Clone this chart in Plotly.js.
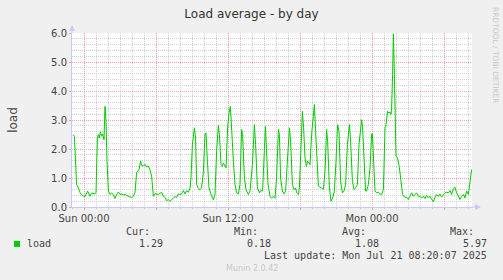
<!DOCTYPE html>
<html>
<head>
<meta charset="utf-8">
<script src="https://cdn.plot.ly/plotly-3.0.1.min.js"></script>
<style>
html,body{margin:0;padding:0;background:#f0f0f0;}
#chart{width:503px;height:280px;}
</style>
</head>
<body>
<div id="chart"></div>
<script>
// minutes since Sat 2025-07-19 23:00 (start of the graph window)
const offsetMinutes = [
6,12,23,32,40,48,57,65,78,90,98,115,120,127,132,137,142,148,153,160,165,170,175,182,190,198,207,215,223,232,240,248,257,265,282,298,307,315,323,335,343,348,357,365,373,382,390,398,407,415,432,448,457,465,473,482,490,498,507,515,523,532,540,548,557,565,573,582,590,595,602,612,618,623,632,640,648,657,665,670,677,685,695,707,715,723,732,737,745,752,757,765,770,778,785,792,798,807,815,823,832,840,848,853,862,870,882,890,902,912,918,927,937,943,953,958,967,973,980,990,998,1007,1015,1023,1032,1037,1043,1052,1060,1068,1077,1087,1093,1102,1110,1118,1123,1132,1137,1145,1152,1158,1165,1172,1178,1185,1190,1198,1207,1212,1218,1225,1232,1240,1248,1257,1265,1273,1278,1287,1295,1303,1312,1320,1328,1335,1343,1352,1360,1368,1377,1387,1393,1402,1410,1418,1427,1435,1448,1453,1462,1468,1473,1482,1490,1498,1502,1507,1515,1523,1532,1540,1548,1557,1565,1570,1573,1578,1585,1590,1595,1598,1603,1607,1612,1617,1620,1628,1637,1645,1653,1665,1673,1682,1690,1698,1707,1715,1723,1732,1740,1748,1757,1765,1773,1782,1790,1798,1807,1815,1823,1832,1840,1848,1857,1865,1873,1882,1890,1898,1907,1915,1923,1932,1940,1948,1957,1965,1973,1982,1990,1998
];
const loadValues = [
2.50,2.44,0.77,0.66,0.50,0.42,0.38,0.36,0.55,0.37,0.48,0.45,0.50,2.38,2.50,2.38,2.59,2.44,2.52,2.32,3.47,2.96,1.58,0.55,0.43,0.48,0.43,0.29,0.43,0.52,0.43,0.45,0.41,0.43,0.37,0.33,0.37,0.50,1.18,1.29,1.58,1.44,1.41,1.47,1.38,1.41,1.29,1.06,0.37,0.46,0.43,0.51,0.37,0.33,0.22,0.25,0.20,0.25,0.30,0.36,0.33,0.45,0.43,0.45,0.57,0.45,0.57,0.51,0.63,1.00,2.15,2.73,2.38,0.78,0.63,0.60,0.66,1.23,2.52,2.55,1.58,0.66,0.43,0.25,0.43,1.92,2.82,2.50,1.46,1.40,1.52,1.40,1.35,2.73,3.24,3.47,2.52,1.58,0.78,0.49,0.45,0.78,2.67,2.50,1.00,0.60,0.43,0.55,1.46,2.84,2.15,0.66,0.49,0.57,0.55,1.58,2.78,1.90,0.80,0.37,0.30,0.37,0.30,1.00,2.67,2.50,1.00,0.55,0.45,0.55,1.58,2.73,2.27,0.78,0.60,0.66,0.49,0.43,0.66,2.38,3.30,2.73,1.69,1.40,1.58,1.52,1.46,2.50,3.19,3.53,2.61,1.58,0.72,0.68,0.66,0.60,1.23,2.67,2.27,0.66,0.20,0.31,0.55,1.58,2.84,2.61,0.89,0.49,0.55,0.78,2.15,2.84,2.27,0.89,0.60,0.66,0.78,2.15,3.01,2.73,1.00,0.55,0.55,0.78,1.35,2.50,2.53,1.46,0.55,0.49,0.51,0.45,0.43,0.60,2.73,2.84,2.96,3.30,3.24,3.27,3.19,3.41,4.56,5.97,4.56,2.61,1.75,1.70,1.35,0.89,0.43,0.32,0.34,0.26,0.37,0.49,0.37,0.43,0.49,0.37,0.37,0.31,0.37,0.29,0.40,0.31,0.37,0.26,0.18,0.34,0.43,0.37,0.45,0.34,0.43,0.49,0.51,0.49,0.57,0.43,0.63,0.68,0.49,0.37,0.26,0.37,0.43,0.31,0.55,0.43,0.78,1.29
];
const tickValues = ['2025-07-20 00:00','2025-07-20 06:00','2025-07-20 12:00','2025-07-20 18:00','2025-07-21 00:00','2025-07-21 06:00'];
const tickLabels = ['Sun 00:00','','Sun 12:00','','Mon 00:00',''];
const statHeaders = ['Cur:','Min:','Avg:','Max:'];
const statValues = ['1.29','0.18','1.08','5.97'];
const seriesName = 'load';
const lastUpdate = 'Last update: Mon Jul 21 08:20:07 2025';

const startMs = Date.UTC(2025,6,19,23,0);
function stamp(m){ return new Date(startMs + m*60000).toISOString().slice(0,19).replace('T',' '); }
const xs = offsetMinutes.map(stamp);

// pixel helpers for decorations (plot area: x 72..472, y 33..207.5)
const L=72, R=472, T=33, B=207.5;
const px = p => (p-L)/(R-L);
const py = p => (B-p)/(B-T);

const mono = 'DejaVu Sans Mono, monospace';
const sans = 'DejaVu Sans, sans-serif';
const txt = '#444';
const annotations = [];
const headerRight = [151,259,367,475];
const valueRight = [164,272,380,488];
statHeaders.forEach((h,i)=>{
  annotations.push({xref:'paper',yref:'paper',x:px(headerRight[i]+1),y:py(232.5),text:h,showarrow:false,xanchor:'right',yanchor:'middle',font:{family:mono,size:10,color:txt}});
  annotations.push({xref:'paper',yref:'paper',x:px(valueRight[i]+1),y:py(244.5),text:statValues[i],showarrow:false,xanchor:'right',yanchor:'middle',font:{family:mono,size:10,color:txt}});
});
annotations.push({xref:'paper',yref:'paper',x:px(25),y:py(244.5),text:seriesName,showarrow:false,xanchor:'left',yanchor:'middle',font:{family:mono,size:10,color:txt}});
annotations.push({xref:'paper',yref:'paper',x:px(489),y:py(256.5),text:lastUpdate,showarrow:false,xanchor:'right',yanchor:'middle',font:{family:mono,size:10,color:txt}});
annotations.push({xref:'paper',yref:'paper',x:px(251.5),y:py(269.5),text:'Munin 2.0.42',showarrow:false,xanchor:'center',yanchor:'middle',font:{family:sans,size:8,color:'#c8c8c8'}});
annotations.push({xref:'paper',yref:'paper',x:px(495),y:py(55),text:'RRDTOOL / TOBI OETIKER',showarrow:false,textangle:90,xanchor:'center',yanchor:'middle',font:{family:sans,size:7.5,color:'#c8c8c8'}});

const axisCol = '#c8c8ff';
const shapes = [
  {type:'rect',xref:'paper',yref:'paper',x0:px(14),x1:px(20),y0:py(247.5),y1:py(241.5),fillcolor:'#00cc00',line:{width:0}},
  {type:'line',xref:'paper',yref:'paper',x0:0,x1:0,y0:1,y1:py(28),line:{color:axisCol,width:1}},
  {type:'line',xref:'paper',yref:'paper',x0:1,x1:px(476),y0:0,y1:0,line:{color:axisCol,width:1}},
  {type:'path',xref:'paper',yref:'paper',path:`M ${px(69)} ${py(31)} L ${px(75)} ${py(31)} L ${px(72)} ${py(25)} Z`,fillcolor:axisCol,line:{color:axisCol,width:0}},
  {type:'path',xref:'paper',yref:'paper',path:`M ${px(475)} ${py(204.5)} L ${px(475)} ${py(210.5)} L ${px(481)} ${py(207.5)} Z`,fillcolor:axisCol,line:{color:axisCol,width:0}}
];

const trace = {x:xs,y:loadValues,type:'scatter',mode:'lines',name:seriesName,line:{color:'#00cc00',width:1},hoverinfo:'skip'};

const layout = {
  width:503,height:280,
  margin:{l:L,r:503-R,t:T,b:280-B},
  paper_bgcolor:'#f0f0f0',plot_bgcolor:'#ffffff',
  showlegend:false,
  title:{text:'Load average - by day',x:0.5,xanchor:'center',y:1-14/280,yanchor:'middle',yref:'container',font:{family:sans,size:12,color:'#333'}},
  xaxis:{type:'date',range:[stamp(0),stamp(2000)],tickvals:tickValues,ticktext:tickLabels,
    showgrid:true,gridcolor:'#e8a0a0',griddash:'1px,1px',gridwidth:1,
    ticks:'outside',ticklen:2,tickcolor:'#e8a0a0',
    minor:{dtick:3600000,tick0:'2025-07-20 00:00',showgrid:true,gridcolor:'#d0d0d0',griddash:'1px,1px',gridwidth:1,ticks:'outside',ticklen:1,tickcolor:'#d0d0d0'},
    showline:true,linecolor:axisCol,linewidth:1,zeroline:false,
    tickfont:{family:sans,size:10,color:txt},fixedrange:true},
  yaxis:{range:[0,6],dtick:1,tick0:0,tickformat:'.1f',
    showgrid:true,gridcolor:'#e8a0a0',griddash:'1px,1px',gridwidth:1,
    ticks:'outside',ticklen:2,tickcolor:'#e8a0a0',
    minor:{dtick:0.2,showgrid:true,gridcolor:'#d0d0d0',griddash:'1px,1px',gridwidth:1},
    showline:true,linecolor:axisCol,linewidth:1,zeroline:false,
    tickfont:{family:sans,size:10,color:txt},
    title:{text:'load',standoff:30,font:{family:sans,size:12,color:txt}},fixedrange:true},
  annotations:annotations,
  shapes:shapes
};
Plotly.newPlot('chart',[trace],layout,{staticPlot:true,displayModeBar:false});
</script>
</body>
</html>
